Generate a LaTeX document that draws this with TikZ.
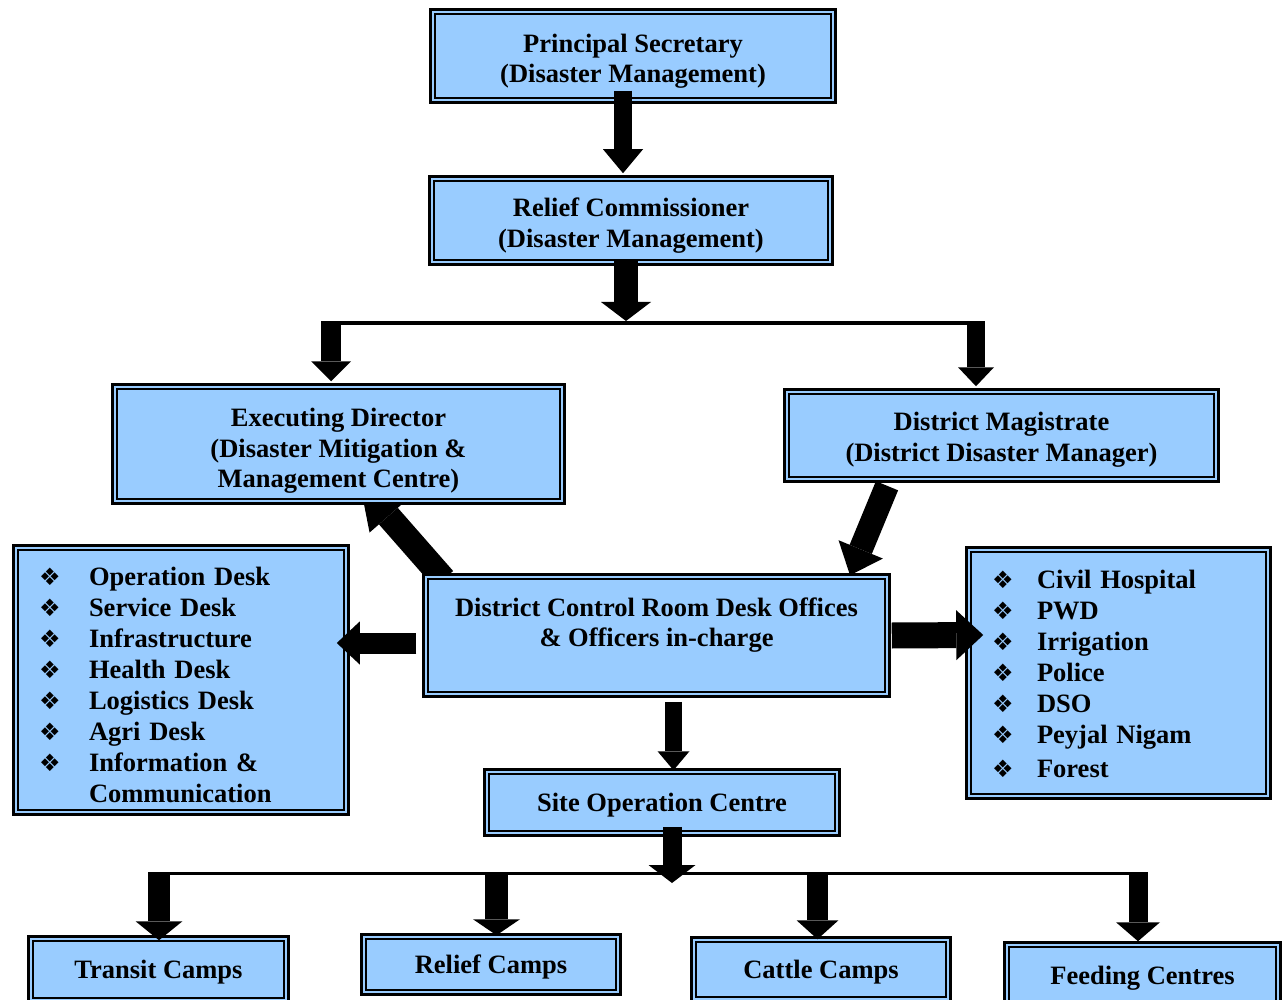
\documentclass[tikz,border=0pt]{standalone}
\usepackage{fontspec}
\setmainfont{Liberation Serif}
\newfontfamily\dejavu{DejaVu Sans}
\usetikzlibrary{arrows.meta}
\definecolor{boxblue}{RGB}{153,204,255}
\pgfdeclarelayer{bg}
\pgfsetlayers{bg,main}
\newcommand{\dia}{{\dejavu\fontsize{24}{24}\selectfont ❖}}
\newcommand{\mainf}{\bfseries\fontsize{26.5}{30.5}\selectfont}
\newcommand{\listf}{\bfseries\fontsize{26.5}{31}\selectfont}
\newcommand{\up}[1]{\rule{0pt}{#1pt}}
\tikzset{
  box/.style={draw=black, line width=3.5pt, fill=boxblue, inner sep=0pt, align=center, font=\mainf,
    path picture={\draw[black,line width=1.8pt]
      ([shift={(4.4pt,-4.4pt)}]path picture bounding box.north west) rectangle
      ([shift={(-4.4pt,4.4pt)}]path picture bounding box.south east);}},
  barrow/.style n args={3}{line width=#1pt, -{Triangle[width=#2pt, length=#3pt, line width=0pt]}},
  hline/.style={line width=3.5pt}
}
\begin{document}
\begin{tikzpicture}[x=1pt,y=-1pt]
\useasboundingbox (0,0) rectangle (1288,1000);
% boxes
\node[box, minimum width=405pt, minimum height=93pt] (ps) at (633,56) {\up{28.4}Principal Secretary\\(Disaster Management)};
\node[box, minimum width=403pt, minimum height=88pt] (rc) at (631,220.5) {\up{29}Relief Commissioner\\(Disaster Management)};
\node[box, minimum width=452pt, minimum height=119pt] (ed) at (338.5,444) {\up{32.4}Executing Director\\(Disaster Mitigation \&\\Management Centre)};
\node[box, minimum width=434pt, minimum height=92pt] (dm) at (1001.5,435.5) {\up{26.4}District Magistrate\\(District Disaster Manager)};
\node[box, minimum width=466pt, minimum height=122pt] (dcr) at (656.5,635.5) {\up{22}District Control Room Desk Offices\\\& Officers in-charge\\\mbox{}};
\node[box, minimum width=335pt, minimum height=269pt, inner xsep=25.5pt, text width=284pt, align=left, font=\listf] (ll) at (181,680) {%
\begin{tabular}{@{}p{50pt}@{}l@{}}
\dia\rule{0pt}{38pt} & Operation Desk\\
\dia & Service Desk\\
\dia & Infrastructure\\
\dia & Health Desk\\
\dia & Logistics Desk\\
\dia & Agri Desk\\
\dia & Information \&\\
 & Communication
\end{tabular}};
\node[box, minimum width=304pt, minimum height=251pt, inner xsep=25.5pt, text width=253pt, align=left, font=\listf] (rl) at (1118.5,673) {%
\begin{tabular}{@{}p{45pt}@{}l@{}}
\dia\rule{0pt}{29pt} & Civil Hospital\\
\dia & PWD\\
\dia & Irrigation\\
\dia & Police\\
\dia & DSO\\
\dia & Peyjal Nigam\\[3pt]
\dia & Forest
\end{tabular}};
\node[box, minimum width=355pt, minimum height=66pt] (soc) at (662,802.5) {\up{24.4}Site Operation Centre};
\node[box, minimum width=260pt, minimum height=66pt] (tc) at (158.5,969.5) {\up{24.4}Transit Camps};
\node[box, minimum width=259pt, minimum height=60pt] (rcp) at (491,964.5) {\up{24.4}Relief Camps};
\node[box, minimum width=259pt, minimum height=64pt] (cc) at (821,969.5) {\up{24.4}Cattle Camps};
\node[box, minimum width=276pt, minimum height=66pt] (fc) at (1142.5,975.5) {\up{24.4}Feeding Centres};
% branch coordinates
\coordinate (tl) at (321,323);
\coordinate (tr) at (985,323);
\coordinate (tj) at (626,321);
\coordinate (tEd) at (331,321.5);
\coordinate (tDm) at (976,321.5);
\coordinate (bl) at (148,873.5);
\coordinate (br) at (1148,873.5);
\coordinate (bj) at (672,883);
\coordinate (bT) at (159,872);
\coordinate (bR) at (496.5,872);
\coordinate (bC) at (817.5,872);
\coordinate (bF) at (1138,872);
% connectors
\draw[hline] (tl) -- (tr);
\draw[hline] (bl) -- (br);
\draw[barrow={18}{40}{24}] ([xshift=-10pt,yshift=13.5pt]ps.south) -- ([xshift=-8pt,yshift=1.5pt]rc.north);
\draw[barrow={24}{50}{19}] ([xshift=-5pt,yshift=6.5pt]rc.south) -- (tj);
\draw[barrow={20}{40}{20}] (tEd) -- ([xshift=-7.5pt,yshift=1.5pt]ed.north);
\draw[barrow={18}{36}{19}] (tDm) -- ([xshift=-25.5pt,yshift=1.5pt]dm.north);
\begin{pgfonlayer}{bg}
\draw[barrow={25}{50}{43}] ([xshift=22pt,yshift=-6.5pt]dcr.north west) -- ([xshift=21.5pt,yshift=21.5pt]ed.south);
\end{pgfonlayer}
\draw[barrow={24}{48}{28}] ([xshift=-114.5pt,yshift=-2.5pt]dm.south) -- ([xshift=193.5pt,yshift=-2.5pt]dcr.north);
\draw[barrow={21}{43}{23}] ([xshift=-5.5pt,yshift=-7.5pt]dcr.west) -- ([xshift=-13.5pt,yshift=37pt]ll.east);
\draw[barrow={26}{50}{27}] ([xshift=0.5pt]dcr.east) -- ([xshift=18.5pt,yshift=38pt]rl.west);
\draw[barrow={17}{32}{19}] ([xshift=17pt,yshift=-3.5pt]dcr.south) -- ([xshift=11.5pt,yshift=-2.5pt]soc.north);
\draw[barrow={19}{47}{18}] ([xshift=10pt,yshift=10.5pt]soc.south) -- (bj);
\draw[barrow={22}{47}{19}] (bT) -- ([xshift=0.5pt,yshift=-5.5pt]tc.north);
\draw[barrow={23}{47}{16}] (bR) -- ([xshift=5.5pt,yshift=-2.5pt]rcp.north);
\draw[barrow={21}{42}{19}] (bC) -- ([xshift=-3.5pt,yshift=-3.5pt]cc.north);
\draw[barrow={19}{44}{19}] (bF) -- ([xshift=-4.5pt,yshift=-0.5pt]fc.north);
\end{tikzpicture}
\end{document}
